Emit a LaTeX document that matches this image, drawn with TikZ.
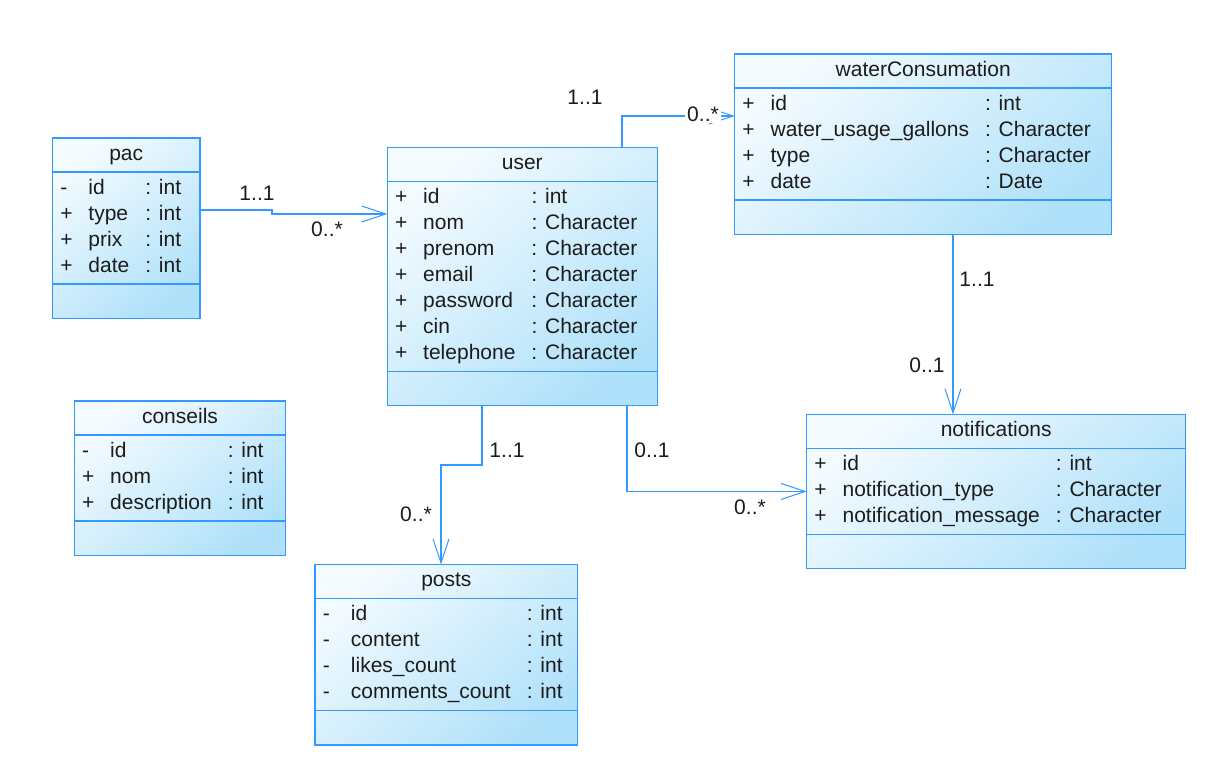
\documentclass[tikz,border=0pt]{standalone}
\usepackage{fontspec}
\setmainfont{Liberation Sans}
\usetikzlibrary{shapes.multipart}
\usetikzlibrary{arrows.meta}
\definecolor{umlline}{RGB}{51,153,255}
\definecolor{umltop}{RGB}{244,251,255}
\definecolor{umlbot}{RGB}{176,225,250}
\definecolor{umltext}{RGB}{28,28,28}

\begin{document}
\begin{tikzpicture}[x=0.5pt,y=-0.5pt,
  font=\fontsize{10.5}{13}\selectfont,
  cls/.style={rectangle split,rectangle split parts=3,rectangle split part align={center,left,center},
    draw=umlline,line width=0.75pt,
    top color=umltop,bottom color=umlbot,shading angle=40,
    inner xsep=3.875pt,inner ysep=1.65pt,outer sep=0pt,anchor=north west,text=umltext},
  assoc/.style={draw=umlline,line width=0.65pt,-{Straight Barb[length=12pt,width=8pt,line width=0.5pt]}},
  mult/.style={fill=white,inner sep=1pt,text=umltext}]
\useasboundingbox (0,0) rectangle (1228,760);
\node[cls] (pac) at (52.5,138) {\makebox[66pt]{\strut pac}%
  \nodepart{two}\begin{tabular}[t]{@{}p{14.1pt}@{}l@{\hspace{8pt}}l@{}}
  - & id & : int\\
  + & type & : int\\
  + & prix & : int\\
  + & date & : int
  \end{tabular}%
  \nodepart{three}\strut};
\node[cls] (user) at (387.3,147.3) {\makebox[127.25pt]{\strut user}%
  \nodepart{two}\begin{tabular}[t]{@{}p{14.1pt}@{}l@{\hspace{8pt}}l@{}}
  + & id & : int\\
  + & nom & : Character\\
  + & prenom & : Character\\
  + & email & : Character\\
  + & password & : Character\\
  + & cin & : Character\\
  + & telephone & : Character
  \end{tabular}%
  \nodepart{three}\strut};
\node[cls] (water) at (734.7,54) {\makebox[180.75pt]{\strut waterConsumation}%
  \nodepart{two}\begin{tabular}[t]{@{}p{14.1pt}@{}l@{\hspace{8pt}}l@{}}
  + & id & : int\\
  + & water\_usage\_gallons & : Character\\
  + & type & : Character\\
  + & date & : Date
  \end{tabular}%
  \nodepart{three}\strut};
\node[cls] (notif) at (806.7,414.3) {\makebox[181.75pt]{\strut notifications}%
  \nodepart{two}\begin{tabular}[t]{@{}p{14.1pt}@{}l@{\hspace{8pt}}l@{}}
  + & id & : int\\
  + & notification\_type & : Character\\
  + & notification\_message & : Character
  \end{tabular}%
  \nodepart{three}\strut};
\node[cls] (posts) at (315,564.5) {\makebox[123.6pt]{\strut posts}%
  \nodepart{two}\begin{tabular}[t]{@{}p{14.1pt}@{}l@{\hspace{8pt}}l@{}}
  - & id & : int\\
  - & content & : int\\
  - & likes\_count & : int\\
  - & comments\_count & : int
  \end{tabular}%
  \nodepart{three}\strut};
\node[cls] (conseils) at (74.3,401) {\makebox[97.95pt]{\strut conseils}%
  \nodepart{two}\begin{tabular}[t]{@{}p{14.1pt}@{}l@{\hspace{8pt}}l@{}}
  - & id & : int\\
  + & nom & : int\\
  + & description & : int
  \end{tabular}%
  \nodepart{three}\strut};
\draw[assoc] (pac.east |- 0,210) -| (272,214) -- (user.west |- 0,214);
\draw[assoc] (user.north -| 622,0) |- (water.west |- 0,116);
\draw[assoc] (water.south -| 953,0) -- (notif.north -| 953,0);
\draw[assoc] (user.south -| 482,0) |- (441,465) -- (posts.north -| 441,0);
\draw[assoc] (user.south -| 627,0) |- (notif.west);
\node[mult] (m1) at (257,193) {1..1};
\node[mult] (m2) at (327,229) {0..*};
\node[mult] (m3) at (585,97) {1..1};
\node[mult] (m4) at (703,114) {0..*};
\node[mult] (m5) at (977,279) {1..1};
\node[mult] (m6) at (927,365) {0..1};
\node[mult] (m7) at (507,450) {1..1};
\node[mult] (m8) at (416,514) {0..*};
\node[mult] (m9) at (652,450) {0..1};
\node[mult] (m10) at (750,507) {0..*};
\end{tikzpicture}
\end{document}
